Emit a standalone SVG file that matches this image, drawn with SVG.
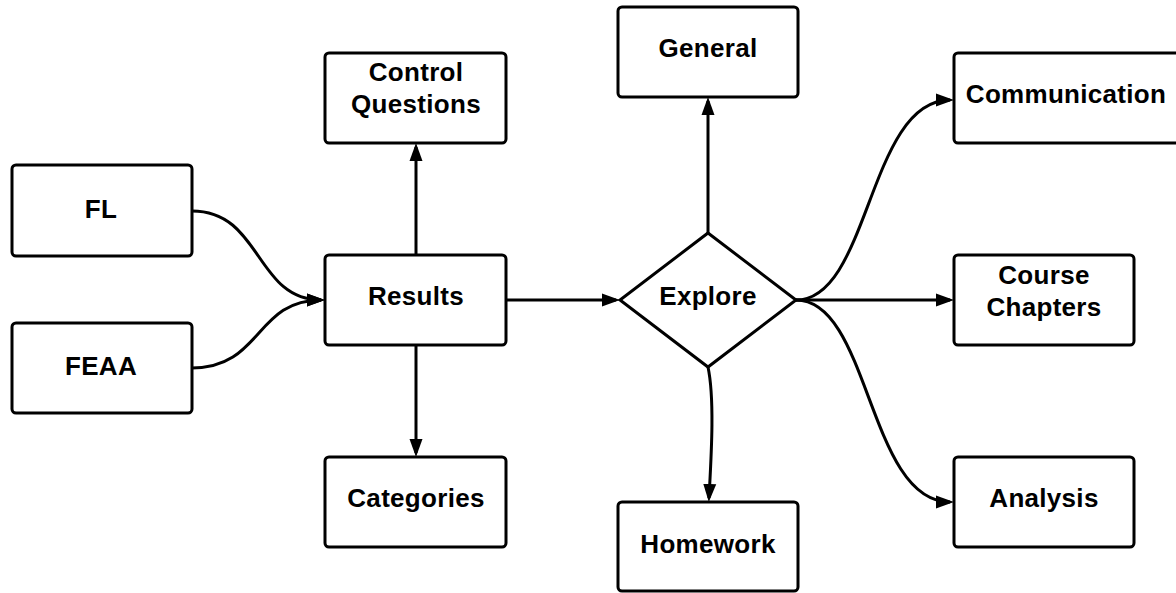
<svg xmlns="http://www.w3.org/2000/svg" width="1176" height="593" viewBox="0 0 1176 593">
<defs>
<marker id="arr" markerUnits="userSpaceOnUse" markerWidth="20" markerHeight="16" viewBox="0 0 20 16" refX="14" refY="8" orient="auto">
<path d="M0,1.5 L18,8 L0,14.5 z" fill="#000"/>
</marker>
<style>
.box{fill:#fff;stroke:#000;stroke-width:3}
.t{font-family:"Liberation Sans",Arial,Helvetica,sans-serif;font-weight:bold;font-size:26px;letter-spacing:0.3px;fill:#000;text-anchor:middle}
.c{fill:none;stroke:#000;stroke-width:3;marker-end:url(#arr)}
</style>
</defs>
<rect width="1176" height="593" fill="#fff"/>
<g id="connectors">
<path class="c" d="M192,211 C262,211 255,300 321,300"/>
<path class="c" d="M192,368 C262,368 255,300 321,300"/>
<path class="c" d="M416,255 L416,147"/>
<path class="c" d="M416,345 L416,453"/>
<path class="c" d="M506,300 L616,300"/>
<path class="c" d="M708,233 L708,101"/>
<path class="c" d="M708,367 C715,400 711,460 709,498"/>
<path class="c" d="M796,300 C870,300 868,100 950,100"/>
<path class="c" d="M796,300 L950,300"/>
<path class="c" d="M796,300 C870,300 868,502 950,502"/>
</g>
<g id="fl"><rect class="box" x="12" y="165" width="180" height="91" rx="4"/><text class="t" x="101" y="218">FL</text></g>
<g id="feaa"><rect class="box" x="12" y="323" width="180" height="90" rx="4"/><text class="t" x="101" y="375">FEAA</text></g>
<g id="control-questions"><rect class="box" x="325" y="53" width="181" height="90" rx="4"/><text class="t" x="416" y="81">Control</text><text class="t" x="416" y="113">Questions</text></g>
<g id="results"><rect class="box" x="325" y="255" width="181" height="90" rx="4"/><text class="t" x="416" y="305">Results</text></g>
<g id="categories"><rect class="box" x="325" y="457" width="181" height="90" rx="4"/><text class="t" x="416" y="507">Categories</text></g>
<g id="explore"><polygon class="box" points="708,233 796,300 708,367 620,300"/><text class="t" x="708" y="305">Explore</text></g>
<g id="general"><rect class="box" x="618" y="7" width="180" height="90" rx="4"/><text class="t" x="708" y="57">General</text></g>
<g id="homework"><rect class="box" x="618" y="502" width="180" height="89" rx="4"/><text class="t" x="708" y="553">Homework</text></g>
<g id="communication"><rect class="box" x="954" y="53" width="226" height="90" rx="4"/><text class="t" x="1066" y="103">Communication</text></g>
<g id="course-chapters"><rect class="box" x="954" y="255" width="180" height="90" rx="4"/><text class="t" x="1044" y="284">Course</text><text class="t" x="1044" y="316">Chapters</text></g>
<g id="analysis"><rect class="box" x="954" y="457" width="180" height="90" rx="4"/><text class="t" x="1044" y="507">Analysis</text></g>
</svg>
